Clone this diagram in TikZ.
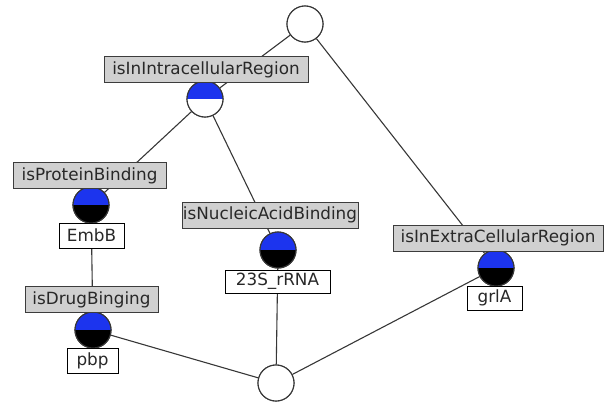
\documentclass[tikz,border=0pt]{standalone}
\usepackage{fontspec}
\setmainfont{DejaVu Sans}
\definecolor{blueC}{RGB}{28,52,238}
\definecolor{edgeC}{RGB}{55,55,55}
\definecolor{boxfill}{RGB}{208,208,208}
\definecolor{boxline}{RGB}{60,60,60}
\definecolor{textc}{RGB}{40,40,40}
\begin{document}
\begin{tikzpicture}[x=1pt,y=-1pt,
  concept/.style={circle, draw=edgeC, line width=1.1pt, minimum size=36pt, inner sep=0pt, fill=white},
  bluetop/.style={path picture={\fill[blueC] (path picture bounding box.north west) rectangle (path picture bounding box.east);}},
  halfwhite/.style={concept, bluetop},
  halfblack/.style={concept, fill=black, bluetop},
  attr/.style={draw=boxline, line width=1pt, fill=boxfill, text=textc, font=\fontsize{16.8}{19}\selectfont, inner sep=0pt, minimum height=26pt},
  obj/.style={draw=black, line width=1pt, fill=white, text=textc, font=\fontsize{16.8}{19}\selectfont, inner sep=0pt, minimum height=25pt},
  edge/.style={draw=edgeC, line width=1.1pt}]
\useasboundingbox (0,0) rectangle (605,405);
% concepts (named, for the connectors)
\node[concept] (top) at (305,24) {};
\node[halfwhite] (c1) at (205,99) {};
\node[halfblack] (c2) at (91,205) {};
\node[halfblack] (c3) at (278,250) {};
\node[halfblack] (c4) at (496,268) {};
\node[halfblack] (c5) at (93,330) {};
\node[concept] (bot) at (276,383) {};
% edges
\draw[edge] (top) -- (c1);
\draw[edge] (top) -- (c4);
\draw[edge] (c1) -- (c2);
\draw[edge] (c1) -- (c3);
\draw[edge] (c2) -- (c5);
\draw[edge] (c5) -- (bot);
\draw[edge] (c3) -- (bot);
\draw[edge] (c4) -- (bot);
% redraw circles above edges
\node[concept] at (top) {};
\node[halfwhite] at (c1) {};
\node[halfblack] at (c2) {};
\node[halfblack] at (c3) {};
\node[halfblack] at (c4) {};
\node[halfblack] at (c5) {};
\node[concept] at (bot) {};
% attribute labels
\node[attr, minimum width=204pt] (a1) at (206,69.5) {isInIntracellularRegion};
\node[attr, minimum width=153pt] (a2) at (89.5,175.5) {isProteinBinding};
\node[attr, minimum width=176pt] (a3) at (270,215) {isNucleicAcidBinding};
\node[attr, minimum width=210pt] (a4) at (498,238) {isInExtraCellularRegion};
\node[attr, minimum width=133pt] (a5) at (91.5,299.5) {isDrugBinging};
% object labels
\node[obj, minimum width=65pt] (o2) at (91.5,235.5) {EmbB};
\node[obj, minimum width=105pt, minimum height=23pt] (o3) at (277.5,281.5) {23S\_rRNA};
\node[obj, minimum width=55pt, minimum height=24pt] (o4) at (494.5,298) {grlA};
\node[obj, minimum width=51pt] (o5) at (92.5,360.5) {pbp};
\end{tikzpicture}
\end{document}
